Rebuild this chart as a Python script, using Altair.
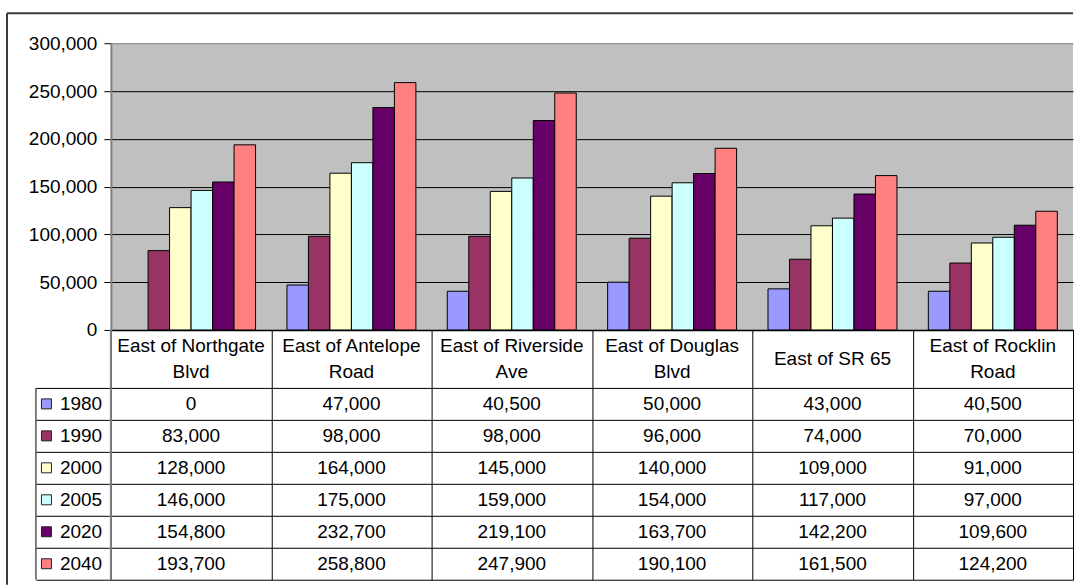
import altair as alt
import pandas as pd

# Traffic volumes by screenline location and year
sites = ["East of Northgate Blvd", "East of Antelope Road", "East of Riverside Ave",
         "East of Douglas Blvd", "East of SR 65", "East of Rocklin Road"]
site_headers = ["East of Northgate\nBlvd", "East of Antelope\nRoad", "East of Riverside\nAve",
                "East of Douglas\nBlvd", "East of SR 65", "East of Rocklin\nRoad"]
years = ["1980", "1990", "2000", "2005", "2020", "2040"]
colors = ["#9999FF", "#993366", "#FFFFCC", "#CCFFFF", "#660066", "#FF8080"]

v1980 = [0, 47000, 40500, 50000, 43000, 40500]
v1990 = [83000, 98000, 98000, 96000, 74000, 70000]
v2000 = [128000, 164000, 145000, 140000, 109000, 91000]
v2005 = [146000, 175000, 159000, 154000, 117000, 97000]
v2020 = [154800, 232700, 219100, 163700, 142200, 109600]
v2040 = [193700, 258800, 247900, 190100, 161500, 124200]
y_ticks = [0, 50000, 100000, 150000, 200000, 250000, 300000]

series = dict(zip(years, [v1980, v1990, v2000, v2005, v2020, v2040]))
rows = [{"site": s, "year": y, "value": vals[i]}
        for y, vals in series.items() for i, s in enumerate(sites)]
df = pd.DataFrame(rows)
df_sites = pd.DataFrame({"site": sites, "header": site_headers})

FONT = "Liberation Sans"
FS = 19
W = 963          # plot width (runs to the right edge of the page)
H_BARS = 287
H_HEAD = 58
H_TABLE = 192
GRAY = "#808080"
FRAME = "#3a3a3a"

site_scale = alt.Scale(domain=sites, paddingInner=0, paddingOuter=0)
color_scale = alt.Scale(domain=years, range=colors)
blank = alt.Data(values=[{}])


def grid_x_axis():
    return alt.Axis(grid=True, gridColor="black", gridWidth=1, tickBand="extent",
                    labels=False, ticks=False, domain=False, title=None)


# --- bar panel ---
bars = alt.Chart(df).transform_filter("datum.value > 0").mark_bar(
    stroke="black", strokeWidth=1).encode(
    x=alt.X("site:N", sort=sites, scale=site_scale,
            axis=alt.Axis(labels=False, ticks=False, domain=True, domainColor="black",
                          domainWidth=1.5, grid=False, title=None)),
    xOffset=alt.XOffset("year:N", sort=years,
                        scale=alt.Scale(domain=years, paddingInner=0, paddingOuter=0.73)),
    y=alt.Y("value:Q", scale=alt.Scale(domain=[0, 300000], nice=False),
            axis=alt.Axis(values=y_ticks, format=",d", title=None,
                          labelFont=FONT, labelFontSize=FS, labelColor="black",
                          labelPadding=7, tickSize=7, tickColor="black",
                          domainColor=GRAY, domainWidth=2,
                          grid=True, gridWidth=1,
                          gridColor={"condition": {"test": "datum.value >= 300000", "value": GRAY},
                                     "value": "black"})),
    color=alt.Color("year:N", scale=color_scale, legend=None),
)

frame_top = alt.Chart(blank).mark_rule(color=FRAME, strokeWidth=2).encode(
    x=alt.value(-104), x2=alt.value(W), y=alt.value(-30))
frame_left = alt.Chart(blank).mark_rule(color=FRAME, strokeWidth=2).encode(
    x=alt.value(-104), y=alt.value(-30), y2=alt.value(H_BARS + H_HEAD + H_TABLE + 5))

panel_bars = alt.layer(bars, frame_top, frame_left).properties(
    width=W, height=H_BARS, view=alt.ViewConfig(fill="#C0C0C0", stroke=None))

# --- category header row ---
two_line = "indexof(datum.header, '\\n') >= 0"
header_base = alt.Chart(df_sites).mark_text(
    font=FONT, fontSize=FS, color="black", lineBreak="\n", lineHeight=26,
    baseline="middle")
header_two = header_base.transform_filter(two_line).encode(
    x=alt.X("site:N", sort=sites, scale=site_scale, axis=grid_x_axis()),
    y=alt.value(H_HEAD / 2 - 13),
    text="header:N",
)
header_one = header_base.transform_filter("!(" + two_line + ")").encode(
    x=alt.X("site:N", sort=sites, scale=site_scale, axis=grid_x_axis()),
    y=alt.value(H_HEAD / 2),
    text="header:N",
)
header_left = alt.Chart(blank).mark_rule(color=GRAY, strokeWidth=2).encode(
    x=alt.value(0), y=alt.value(0), y2=alt.value(H_HEAD))
panel_header = alt.layer(header_two, header_one, header_left).properties(
    width=W, height=H_HEAD, view=alt.ViewConfig(stroke=None))

# --- data table with legend keys ---
year_y = alt.Y("year:N", sort=years,
               scale=alt.Scale(domain=years, paddingInner=0, paddingOuter=0),
               axis=alt.Axis(grid=True, gridColor="black", gridWidth=1, tickBand="extent",
                             ticks=True, tickSize=75, tickColor="black", tickWidth=1,
                             labels=False, domain=False, title=None))

cells = alt.Chart(df).mark_text(font=FONT, fontSize=FS, color="black").encode(
    x=alt.X("site:N", sort=sites, scale=site_scale, axis=grid_x_axis()),
    y=year_y,
    text=alt.Text("value:Q", format=","),
)
keys = alt.Chart(pd.DataFrame({"year": years})).mark_square(
    size=100, opacity=1, stroke="#222222", strokeWidth=1).encode(
    x=alt.value(-64.5), y=year_y,
    color=alt.Color("year:N", scale=color_scale, legend=None),
)
key_text = alt.Chart(pd.DataFrame({"year": years})).mark_text(
    font=FONT, fontSize=FS, color="black", align="left").encode(
    x=alt.value(-51), y=year_y, text="year:N")
table_left = alt.Chart(blank).mark_rule(color="black", strokeWidth=1).encode(
    x=alt.value(-75), y=alt.value(0), y2=alt.value(H_TABLE))
table_axis = alt.Chart(blank).mark_rule(color=GRAY, strokeWidth=2).encode(
    x=alt.value(0), y=alt.value(0), y2=alt.value(H_TABLE))

panel_table = alt.layer(cells, keys, key_text, table_left, table_axis).properties(
    width=W, height=H_TABLE, view=alt.ViewConfig(stroke=None))

chart = alt.vconcat(panel_bars, panel_header, panel_table, spacing=0, bounds="flush").properties(
    padding={"left": 6, "top": 12, "right": 0, "bottom": 0},
    background="white",
).configure_view(stroke=None).configure(font=FONT)

chart.save("out.html", embed_options={"renderer": "svg", "actions": False})
